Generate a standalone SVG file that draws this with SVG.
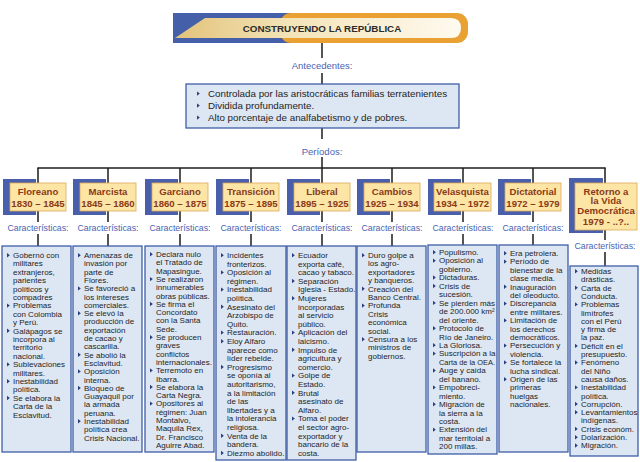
<svg xmlns="http://www.w3.org/2000/svg" xmlns:xlink="http://www.w3.org/1999/xlink" width="640" height="462" viewBox="0 0 640 462">
<defs>
<linearGradient id="tg" x1="175" y1="0" x2="460" y2="0" gradientUnits="userSpaceOnUse">
<stop offset="0" stop-color="#e2c27a"/><stop offset="0.4" stop-color="#f3e4b8"/><stop offset="1" stop-color="#fffaf0"/>
</linearGradient>
<path id="b" d="M0,-2.2 L2.8,0 L0,2.2 Z" fill="#2b3f80"/>
<style>
.ln{stroke:#1c1c1c;stroke-width:1.5;fill:none}
.hb{fill:#4a5fab}
.hc{fill:#fde5a6;stroke:#d9ab57;stroke-width:.8}
.ht{font-family:"Liberation Sans",Arial,sans-serif;font-weight:bold;font-size:9.6px;fill:#8a3a17;text-anchor:middle}
.lb{font-family:"Liberation Sans",Arial,sans-serif;font-size:9.5px;fill:#4a63b0;text-anchor:middle}
.ch{font-family:"Liberation Sans",Arial,sans-serif;font-size:8.8px;fill:#4a63b0;text-anchor:middle}
.bx{fill:#dde6f3;stroke:#3f5fa6;stroke-width:1.3}
.t{font-family:"Liberation Sans",Arial,sans-serif;font-size:8px;fill:#1e1e1e}
.at{font-family:"Liberation Sans",Arial,sans-serif;font-size:9.8px;fill:#1e1e1e}
</style>
</defs>
<rect width="640" height="462" fill="#ffffff"/>

<g id="connectors">
<line class="ln" x1="322" y1="43" x2="322" y2="58"/>
<line class="ln" x1="322" y1="73" x2="322" y2="84"/>
<line class="ln" x1="322" y1="128" x2="322" y2="139"/>
<line class="ln" x1="322" y1="157" x2="322" y2="168"/>
<line class="ln" x1="37.3" y1="168" x2="605.7" y2="168"/>
<path class="ln" d="M38,168V183M38,211V222M38,234V246"/>
<path class="ln" d="M108,168V183M108,211V222M108,234V246"/>
<path class="ln" d="M180,168V183M180,211V222M180,234V246"/>
<path class="ln" d="M251,168V183M251,211V222M251,234V246"/>
<path class="ln" d="M322,168V183M322,211V222M322,234V246"/>
<path class="ln" d="M392,168V183M392,211V222M392,234V246"/>
<path class="ln" d="M463,168V183M463,211V222M463,234V246"/>
<path class="ln" d="M533,168V183M533,211V222M533,234V246"/>
<path class="ln" d="M605,168V183M605,230V240M605,252V266"/>
</g>

<g id="title">
<rect x="173" y="13" width="130" height="30" fill="#4560a8"/>
<rect x="280" y="13" width="188" height="30" rx="11" fill="#e9a134"/>
<path d="M175,38 L205,18 H451 Q461,18 461,28 Q461,38 451,38 Z" fill="url(#tg)"/>
<text x="322" y="31.5" font-family="Liberation Sans, Arial, sans-serif" font-weight="bold" font-size="9.8" fill="#2b2b2b" text-anchor="middle">CONSTRUYENDO LA REPÚBLICA</text>
</g>

<g id="antecedentes-label"><text class="lb" x="322" y="68.5">Antecedentes:</text></g>

<g id="antecedentes">
<rect class="bx" x="186" y="84" width="273" height="44"/>
<use href="#b" x="197" y="93.6"/>
<use href="#b" x="197" y="105.6"/>
<use href="#b" x="197" y="117.6"/>
<text class="at" x="208" y="97">Controlada por las aristocráticas familias terratenientes</text>
<text class="at" x="208" y="109">Dividida profundamente.</text>
<text class="at" x="208" y="121">Alto porcentaje de analfabetismo y de pobres.</text>
</g>

<g id="periodos-label"><text class="lb" x="322" y="154.5">Períodos:</text></g>

<!-- Headers -->
<g id="h-floreano"><rect class="hb" x="3" y="179" width="33" height="36"/><rect class="hc" x="10" y="183" width="56" height="28"/><text class="ht" x="38" y="194.5">Floreano</text><text class="ht" x="38" y="206.5">1830 – 1845</text></g>
<g id="h-marcista"><rect class="hb" x="73" y="179" width="33" height="36"/><rect class="hc" x="80" y="183" width="56" height="28"/><text class="ht" x="108" y="194.5">Marcista</text><text class="ht" x="108" y="206.5">1845 – 1860</text></g>
<g id="h-garciano"><rect class="hb" x="145" y="179" width="33" height="36"/><rect class="hc" x="152" y="183" width="56" height="28"/><text class="ht" x="180" y="194.5">Garciano</text><text class="ht" x="180" y="206.5">1860 – 1875</text></g>
<g id="h-transicion"><rect class="hb" x="216" y="179" width="33" height="36"/><rect class="hc" x="223" y="183" width="56" height="28"/><text class="ht" x="251" y="194.5">Transición</text><text class="ht" x="251" y="206.5">1875 – 1895</text></g>
<g id="h-liberal"><rect class="hb" x="287" y="179" width="33" height="36"/><rect class="hc" x="294" y="183" width="56" height="28"/><text class="ht" x="322" y="194.5">Liberal</text><text class="ht" x="322" y="206.5">1895 – 1925</text></g>
<g id="h-cambios"><rect class="hb" x="357" y="179" width="33" height="36"/><rect class="hc" x="364" y="183" width="56" height="28"/><text class="ht" x="392" y="194.5">Cambios</text><text class="ht" x="392" y="206.5">1925 – 1934</text></g>
<g id="h-velasquista"><rect class="hb" x="428" y="179" width="33" height="36"/><rect class="hc" x="434" y="183" width="57" height="28"/><text class="ht" x="462.5" y="194.5">Velasquista</text><text class="ht" x="462.5" y="206.5">1934 – 1972</text></g>
<g id="h-dictatorial"><rect class="hb" x="498" y="179" width="33" height="36"/><rect class="hc" x="505" y="183" width="56" height="28"/><text class="ht" x="533" y="194.5">Dictatorial</text><text class="ht" x="533" y="206.5">1972 – 1979</text></g>
<g id="h-retorno"><rect class="hb" x="569" y="178" width="34" height="55"/><rect class="hc" x="575" y="183" width="62" height="47"/><text class="ht" x="606" y="194.5">Retorno a</text><text class="ht" x="606" y="204">la Vida</text><text class="ht" x="606" y="213.5">Democrática</text><text class="ht" x="606" y="224.5">1979 - ..?..</text></g>

<!-- Características labels -->
<g id="caracteristicas">
<text class="ch" x="38" y="231">Características:</text>
<text class="ch" x="108" y="231">Características:</text>
<text class="ch" x="180" y="231">Características:</text>
<text class="ch" x="251" y="231">Características:</text>
<text class="ch" x="322" y="231">Características:</text>
<text class="ch" x="392" y="231">Características:</text>
<text class="ch" x="463" y="231">Características:</text>
<text class="ch" x="533" y="231">Características:</text>
<text class="ch" x="605" y="249">Características:</text>
</g>

<g id="c-floreano">
<rect class="bx" x="2" y="246" width="69" height="206"/>
<use href="#b" x="7" y="255.2"/><use href="#b" x="7" y="305.6"/><use href="#b" x="7" y="330.8"/><use href="#b" x="7" y="364.4"/><use href="#b" x="7" y="381.2"/><use href="#b" x="7" y="398"/>
<text class="t"><tspan x="13" y="258">Gobernó con</tspan><tspan x="13" dy="8.4">militares</tspan><tspan x="13" dy="8.4">extranjeros,</tspan><tspan x="13" dy="8.4">parientes</tspan><tspan x="13" dy="8.4">políticos y</tspan><tspan x="13" dy="8.4">compadres</tspan><tspan x="13" dy="8.4">Problemas</tspan><tspan x="13" dy="8.4">con Colombia</tspan><tspan x="13" dy="8.4">y Perú.</tspan><tspan x="13" dy="8.4">Galápagos se</tspan><tspan x="13" dy="8.4">incorpora al</tspan><tspan x="13" dy="8.4">territorio</tspan><tspan x="13" dy="8.4">nacional.</tspan><tspan x="13" dy="8.4">Sublevaciones</tspan><tspan x="13" dy="8.4">militares.</tspan><tspan x="13" dy="8.4">Inestabilidad</tspan><tspan x="13" dy="8.4">política.</tspan><tspan x="13" dy="8.4">Se elabora la</tspan><tspan x="13" dy="8.4">Carta de la</tspan><tspan x="13" dy="8.4">Esclavitud.</tspan></text>
</g>

<g id="c-marcista">
<rect class="bx" x="73" y="246" width="69" height="206"/>
<use href="#b" x="78" y="255.2"/><use href="#b" x="78" y="288.4"/><use href="#b" x="78" y="313.3"/><use href="#b" x="78" y="354.8"/><use href="#b" x="78" y="371.4"/><use href="#b" x="78" y="388"/><use href="#b" x="78" y="421.2"/>
<text class="t"><tspan x="84" y="258">Amenazas de</tspan><tspan x="84" dy="8.3">invasión por</tspan><tspan x="84" dy="8.3">parte de</tspan><tspan x="84" dy="8.3">Flores.</tspan><tspan x="84" dy="8.3">Se favoreció a</tspan><tspan x="84" dy="8.3">los intereses</tspan><tspan x="84" dy="8.3">comerciales.</tspan><tspan x="84" dy="8.3">Se elevó la</tspan><tspan x="84" dy="8.3">producción de</tspan><tspan x="84" dy="8.3">exportación</tspan><tspan x="84" dy="8.3">de cacao y</tspan><tspan x="84" dy="8.3">cascarilla.</tspan><tspan x="84" dy="8.3">Se abolió la</tspan><tspan x="84" dy="8.3">Esclavitud.</tspan><tspan x="84" dy="8.3">Oposición</tspan><tspan x="84" dy="8.3">interna.</tspan><tspan x="84" dy="8.3">Bloqueo de</tspan><tspan x="84" dy="8.3">Guayaquil por</tspan><tspan x="84" dy="8.3">la armada</tspan><tspan x="84" dy="8.3">peruana.</tspan><tspan x="84" dy="8.3">Inestabilidad</tspan><tspan x="84" dy="8.3">política crea</tspan><tspan x="84" dy="8.3">Crisis Nacional.</tspan></text>
</g>

<g id="c-garciano">
<rect class="bx" x="145" y="246" width="69" height="206"/>
<use href="#b" x="150" y="254.2"/><use href="#b" x="150" y="279.1"/><use href="#b" x="150" y="304"/><use href="#b" x="150" y="337.2"/><use href="#b" x="150" y="370.4"/><use href="#b" x="150" y="387"/><use href="#b" x="150" y="403.6"/>
<text class="t"><tspan x="156" y="257">Declara nulo</tspan><tspan x="156" dy="8.3">el Tratado de</tspan><tspan x="156" dy="8.3">Mapasingue.</tspan><tspan x="156" dy="8.3">Se realizaron</tspan><tspan x="156" dy="8.3">innumerables</tspan><tspan x="156" dy="8.3">obras públicas.</tspan><tspan x="156" dy="8.3">Se firma el</tspan><tspan x="156" dy="8.3">Concordato</tspan><tspan x="156" dy="8.3">con la Santa</tspan><tspan x="156" dy="8.3">Sede.</tspan><tspan x="156" dy="8.3">Se producen</tspan><tspan x="156" dy="8.3">graves</tspan><tspan x="156" dy="8.3">conflictos</tspan><tspan x="156" dy="8.3">internacionales.</tspan><tspan x="156" dy="8.3">Terremoto en</tspan><tspan x="156" dy="8.3">Ibarra.</tspan><tspan x="156" dy="8.3">Se elabora la</tspan><tspan x="156" dy="8.3">Carta Negra.</tspan><tspan x="156" dy="8.3">Opositores al</tspan><tspan x="156" dy="8.3">régimen: Juan</tspan><tspan x="156" dy="8.3">Montalvo,</tspan><tspan x="156" dy="8.3">Maquila Rex,</tspan><tspan x="156" dy="8.3">Dr. Francisco</tspan><tspan x="156" dy="8.3">Aguirre Abad.</tspan></text>
</g>

<g id="c-transicion">
<rect class="bx" x="216" y="246" width="70" height="214"/>
<use href="#b" x="221" y="255.2"/><use href="#b" x="221" y="272.4"/><use href="#b" x="221" y="289.6"/><use href="#b" x="221" y="306.8"/><use href="#b" x="221" y="332.6"/><use href="#b" x="221" y="341.2"/><use href="#b" x="221" y="367"/><use href="#b" x="221" y="435.8"/><use href="#b" x="221" y="453"/>
<text class="t"><tspan x="227" y="258">Incidentes</tspan><tspan x="227" dy="8.6">fronterizos.</tspan><tspan x="227" dy="8.6">Oposición al</tspan><tspan x="227" dy="8.6">régimen.</tspan><tspan x="227" dy="8.6">Inestabilidad</tspan><tspan x="227" dy="8.6">política.</tspan><tspan x="227" dy="8.6">Asesinato del</tspan><tspan x="227" dy="8.6">Arzobispo de</tspan><tspan x="227" dy="8.6">Quito.</tspan><tspan x="227" dy="8.6">Restauración.</tspan><tspan x="227" dy="8.6">Eloy Alfaro</tspan><tspan x="227" dy="8.6">aparece como</tspan><tspan x="227" dy="8.6">líder rebelde.</tspan><tspan x="227" dy="8.6">Progresismo</tspan><tspan x="227" dy="8.6">se oponía al</tspan><tspan x="227" dy="8.6">autoritarismo,</tspan><tspan x="227" dy="8.6">a la limitación</tspan><tspan x="227" dy="8.6">de las</tspan><tspan x="227" dy="8.6">libertades y a</tspan><tspan x="227" dy="8.6">la intolerancia</tspan><tspan x="227" dy="8.6">religiosa.</tspan><tspan x="227" dy="8.6">Venta de la</tspan><tspan x="227" dy="8.6">bandera.</tspan><tspan x="227" dy="8.6">Diezmo abolido.</tspan></text>
</g>

<g id="c-liberal">
<rect class="bx" x="287" y="246" width="69" height="214"/>
<use href="#b" x="292" y="255.2"/><use href="#b" x="292" y="281"/><use href="#b" x="292" y="298.2"/><use href="#b" x="292" y="332.6"/><use href="#b" x="292" y="349.8"/><use href="#b" x="292" y="375.6"/><use href="#b" x="292" y="392.8"/><use href="#b" x="292" y="418.6"/>
<text class="t"><tspan x="298" y="258">Ecuador</tspan><tspan x="298" dy="8.6">exporta café,</tspan><tspan x="298" dy="8.6">cacao y tabaco.</tspan><tspan x="298" dy="8.6">Separación</tspan><tspan x="298" dy="8.6">Iglesia - Estado.</tspan><tspan x="298" dy="8.6">Mujeres</tspan><tspan x="298" dy="8.6">incorporadas</tspan><tspan x="298" dy="8.6">al servicio</tspan><tspan x="298" dy="8.6">público.</tspan><tspan x="298" dy="8.6">Aplicación del</tspan><tspan x="298" dy="8.6">laicismo.</tspan><tspan x="298" dy="8.6">Impulso de</tspan><tspan x="298" dy="8.6">agricultura y</tspan><tspan x="298" dy="8.6">comercio.</tspan><tspan x="298" dy="8.6">Golpe de</tspan><tspan x="298" dy="8.6">Estado.</tspan><tspan x="298" dy="8.6">Brutal</tspan><tspan x="298" dy="8.6">asesinato de</tspan><tspan x="298" dy="8.6">Alfaro.</tspan><tspan x="298" dy="8.6">Toma el poder</tspan><tspan x="298" dy="8.6">el sector agro-</tspan><tspan x="298" dy="8.6">exportador y</tspan><tspan x="298" dy="8.6">bancario de la</tspan><tspan x="298" dy="8.6">costa.</tspan></text>
</g>

<g id="c-cambios">
<rect class="bx" x="357" y="246" width="69" height="206"/>
<use href="#b" x="362" y="255.2"/><use href="#b" x="362" y="288.8"/><use href="#b" x="362" y="305.6"/><use href="#b" x="362" y="339.2"/>
<text class="t"><tspan x="368" y="258">Duro golpe a</tspan><tspan x="368" dy="8.4">los agro-</tspan><tspan x="368" dy="8.4">exportadores</tspan><tspan x="368" dy="8.4">y banqueros.</tspan><tspan x="368" dy="8.4">Creación del</tspan><tspan x="368" dy="8.4">Banco Central.</tspan><tspan x="368" dy="8.4">Profunda</tspan><tspan x="368" dy="8.4">Crisis</tspan><tspan x="368" dy="8.4">económica</tspan><tspan x="368" dy="8.4">social.</tspan><tspan x="368" dy="8.4">Censura a los</tspan><tspan x="368" dy="8.4">ministros de</tspan><tspan x="368" dy="8.4">gobiernos.</tspan></text>
</g>

<g id="c-velasquista">
<rect class="bx" x="428" y="245" width="69" height="209"/>
<use href="#b" x="433" y="252.2"/><use href="#b" x="433" y="260.65"/><use href="#b" x="433" y="277.55"/><use href="#b" x="433" y="286"/><use href="#b" x="433" y="302.9"/><use href="#b" x="433" y="328.25"/><use href="#b" x="433" y="345.15"/><use href="#b" x="433" y="353.6"/><use href="#b" x="433" y="370.5"/><use href="#b" x="433" y="387.4"/><use href="#b" x="433" y="404.3"/><use href="#b" x="433" y="429.65"/>
<text class="t"><tspan x="439" y="255">Populismo.</tspan><tspan x="439" dy="8.45">Oposición al</tspan><tspan x="439" dy="8.45">gobierno.</tspan><tspan x="439" dy="8.45">Dictaduras.</tspan><tspan x="439" dy="8.45">Crisis de</tspan><tspan x="439" dy="8.45">sucesión.</tspan><tspan x="439" dy="8.45">Se pierden más</tspan><tspan x="439" dy="8.45">de 200.000 km²</tspan><tspan x="439" dy="8.45">del oriente.</tspan><tspan x="439" dy="8.45">Protocolo de</tspan><tspan x="439" dy="8.45">Río de Janeiro.</tspan><tspan x="439" dy="8.45">La Gloriosa.</tspan><tspan x="439" dy="8.45">Suscripción a la</tspan><tspan x="439" dy="8.45" textLength="56" lengthAdjust="spacingAndGlyphs">Carta de la OEA.</tspan><tspan x="439" dy="8.45">Auge y caída</tspan><tspan x="439" dy="8.45">del banano.</tspan><tspan x="439" dy="8.45">Empobreci-</tspan><tspan x="439" dy="8.45">miento.</tspan><tspan x="439" dy="8.45">Migración de</tspan><tspan x="439" dy="8.45">la sierra a la</tspan><tspan x="439" dy="8.45">costa.</tspan><tspan x="439" dy="8.45">Extensión del</tspan><tspan x="439" dy="8.45">mar territoial a</tspan><tspan x="439" dy="8.45">200 millas.</tspan></text>
</g>

<g id="c-dictatorial">
<rect class="bx" x="499" y="245" width="69" height="207"/>
<use href="#b" x="504" y="253.2"/><use href="#b" x="504" y="261.6"/><use href="#b" x="504" y="286.8"/><use href="#b" x="504" y="303.6"/><use href="#b" x="504" y="320.4"/><use href="#b" x="504" y="345.6"/><use href="#b" x="504" y="362.4"/><use href="#b" x="504" y="379.2"/>
<text class="t"><tspan x="510" y="256">Era petrolera.</tspan><tspan x="510" dy="8.4">Período de</tspan><tspan x="510" dy="8.4">bienestar de la</tspan><tspan x="510" dy="8.4">clase media.</tspan><tspan x="510" dy="8.4">Inauguración</tspan><tspan x="510" dy="8.4">del oleoducto.</tspan><tspan x="510" dy="8.4">Discrepancia</tspan><tspan x="510" dy="8.4">entre militares.</tspan><tspan x="510" dy="8.4">Limitación de</tspan><tspan x="510" dy="8.4">los derechos</tspan><tspan x="510" dy="8.4">democráticos.</tspan><tspan x="510" dy="8.4">Persecución y</tspan><tspan x="510" dy="8.4">violencia.</tspan><tspan x="510" dy="8.4">Se fortalece la</tspan><tspan x="510" dy="8.4">lucha sindical.</tspan><tspan x="510" dy="8.4">Origen de las</tspan><tspan x="510" dy="8.4">primeras</tspan><tspan x="510" dy="8.4">huelgas</tspan><tspan x="510" dy="8.4">nacionales.</tspan></text>
</g>

<g id="c-retorno">
<rect class="bx" x="570" y="266" width="68" height="190"/>
<use href="#b" x="575" y="271.2"/><use href="#b" x="575" y="287.8"/><use href="#b" x="575" y="304.4"/><use href="#b" x="575" y="345.9"/><use href="#b" x="575" y="362.5"/><use href="#b" x="575" y="387.4"/><use href="#b" x="575" y="404"/><use href="#b" x="575" y="412.3"/><use href="#b" x="575" y="428.9"/><use href="#b" x="575" y="437.2"/><use href="#b" x="575" y="445.5"/>
<text class="t"><tspan x="581" y="274">Medidas</tspan><tspan x="581" dy="8.3">drásticas.</tspan><tspan x="581" dy="8.3">Carta de</tspan><tspan x="581" dy="8.3">Conducta.</tspan><tspan x="581" dy="8.3">Problemas</tspan><tspan x="581" dy="8.3">limítrofes</tspan><tspan x="581" dy="8.3">con el Perú</tspan><tspan x="581" dy="8.3">y firma de</tspan><tspan x="581" dy="8.3">la paz.</tspan><tspan x="581" dy="8.3">Déficit en el</tspan><tspan x="581" dy="8.3">presupuesto.</tspan><tspan x="581" dy="8.3">Fenómeno</tspan><tspan x="581" dy="8.3">del Niño</tspan><tspan x="581" dy="8.3">causa daños.</tspan><tspan x="581" dy="8.3">Inestabilidad</tspan><tspan x="581" dy="8.3">política.</tspan><tspan x="581" dy="8.3">Corrupción.</tspan><tspan x="581" dy="8.3">Levantamientos</tspan><tspan x="581" dy="8.3">indígenas.</tspan><tspan x="581" dy="8.3">Crisis económ.</tspan><tspan x="581" dy="8.3">Dolarización.</tspan><tspan x="581" dy="8.3">Migración.</tspan></text>
</g>
</svg>
